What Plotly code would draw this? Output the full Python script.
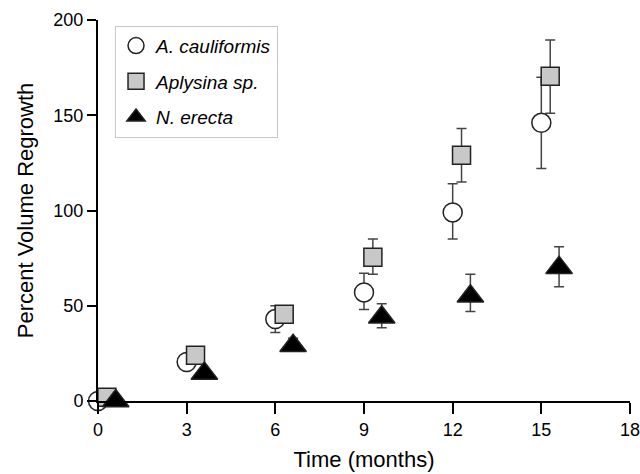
import plotly.graph_objects as go

months = [0, 3, 6, 9, 12, 15]

names = ["A. cauliformis", "Aplysina sp.", "N. erecta"]
offsets = [0.0, 0.3, 0.6]

a_caul = [0, 20.5, 43, 57, 99, 146]
a_caul_up = [0, 0, 7, 10, 15, 24]
a_caul_dn = [0, 0, 7, 9, 14, 24]

aplys = [2, 24, 45.5, 75.5, 129, 170.5]
aplys_up = [0, 0, 4, 9.5, 14, 19]
aplys_dn = [0, 0, 4, 9, 14, 19.5]

nerecta = [0, 14.5, 29, 44, 55, 70]
nerecta_up = [0, 0, 4, 7, 11.5, 11]
nerecta_dn = [0, 0, 2, 5.5, 8, 10]

values = [a_caul, aplys, nerecta]
ups = [a_caul_up, aplys_up, nerecta_up]
dns = [a_caul_dn, aplys_dn, nerecta_dn]
symbols = ["circle", "square", "triangle-up"]
fills = ["white", "#c8c8c8", "black"]
sizes = [19, 18, 23]

FONT = "Liberation Sans, Arial, sans-serif"

fig = go.Figure()
for i in range(3):
    fig.add_trace(go.Scatter(
        x=[m + offsets[i] for m in months],
        y=values[i],
        mode="markers",
        name="<i>" + names[i] + "</i>",
        legendgroup=str(i),
        marker=dict(symbol=symbols[i], size=sizes[i], color=fills[i],
                    line=dict(color="#222222", width=1.5)),
        error_y=dict(type="data", symmetric=False, array=ups[i], arrayminus=dns[i],
                     color="#444444", thickness=1.5, width=5),
        cliponaxis=False,
    ))

fig.update_layout(
    width=640, height=474,
    margin=dict(l=98, r=10, t=20, b=73),
    paper_bgcolor="white", plot_bgcolor="white",
    font=dict(family=FONT, size=18, color="black"),
    showlegend=True,
    legend=dict(x=0.032, y=0.985, xanchor="left", yanchor="top",
                bordercolor="#c8c8c8", borderwidth=1, bgcolor="white",
                font=dict(family=FONT, size=19), tracegroupgap=8,
                itemsizing="trace"),
    xaxis=dict(range=[0, 18], tickvals=[0, 3, 6, 9, 12, 15, 18],
               showline=True, linecolor="black", linewidth=2,
               ticks="outside", ticklen=11, tickwidth=2, tickcolor="black",
               showgrid=False, zeroline=False, ticklabeloverflow="allow",
               automargin=False,
               title=dict(text="Time (months)", font=dict(size=22), standoff=13),
               tickfont=dict(size=18)),
    yaxis=dict(range=[0, 200], tickvals=[0, 50, 100, 150, 200],
               showline=True, linecolor="black", linewidth=2,
               ticks="outside", ticklen=9, tickwidth=2, tickcolor="black",
               showgrid=False, zeroline=False, automargin=False,
               title=dict(text="Percent Volume Regrowth", font=dict(size=22), standoff=14),
               tickfont=dict(size=18)),
)

fig.write_html("out.html")
